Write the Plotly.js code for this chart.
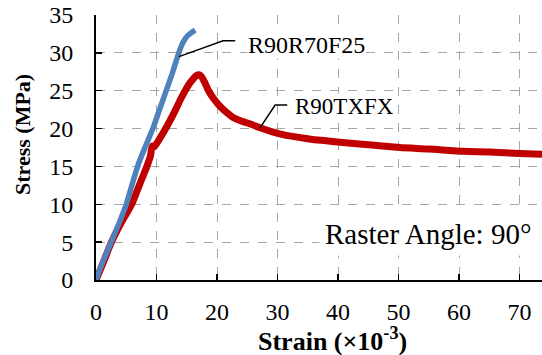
<!DOCTYPE html>
<html>
<head>
<meta charset="utf-8">
<script src="https://cdn.plot.ly/plotly-3.0.1.min.js"></script>
<style>html,body{margin:0;padding:0;background:#fff}#chart{width:542px;height:355px}</style>
</head>
<body>
<div id="chart"></div>
<script>
// R90TXFX (red)
const redStrain = [0, 1.2, 2.5, 4.2, 5.9, 7.2, 8.4, 9.0, 9.3, 9.6, 10.4, 11.3, 12.2, 13.1, 14.0, 14.8, 15.5, 16.1, 16.6, 17.0, 17.4, 17.9, 18.6, 19.3, 20.2, 21.2, 22.6, 24.0, 25.5, 27.1, 29.0, 30.9, 33.0, 35.5, 38.0, 40.3, 43.0, 46.0, 50.2, 55.0, 60.7, 65.0, 70.0, 74.0];
const redStress = [0, 2.3, 4.9, 7.6, 10.0, 12.6, 15.0, 16.4, 17.7, 17.6, 18.5, 19.7, 21.0, 22.4, 23.9, 25.1, 26.0, 26.6, 27.0, 27.1, 26.9, 26.2, 25.0, 24.1, 23.2, 22.4, 21.5, 21.0, 20.6, 20.1, 19.6, 19.2, 18.9, 18.6, 18.4, 18.2, 18.0, 17.8, 17.5, 17.3, 17.0, 16.9, 16.7, 16.6];
// R90R70F25 (blue)
const blueStrain = [0, 1.2, 2.5, 3.8, 5.0, 6.0, 7.0, 8.2, 9.4, 10.5, 11.6, 12.6, 13.4, 14.0, 14.6, 15.2, 15.8, 16.4];
const blueStress = [0, 2.5, 5.0, 7.5, 10.0, 12.7, 15.3, 17.7, 20.0, 22.5, 25.0, 27.3, 29.3, 30.7, 31.7, 32.3, 32.7, 33.0];
const xTicks = [0, 10, 20, 30, 40, 50, 60, 70];
const yTicks = [0, 5, 10, 15, 20, 25, 30, 35];
const seriesNames = ['R90TXFX', 'R90R70F25'];

const serif = 'Liberation Serif, Times New Roman, serif';
const traces = [
  {x: redStrain, y: redStress, name: seriesNames[0], mode: 'lines', line: {color: '#C00000', width: 7, shape: 'spline', smoothing: 0.6}},
  {x: blueStrain, y: blueStress, name: seriesNames[1], mode: 'lines', line: {color: '#4F81BD', width: 5.5, shape: 'spline', smoothing: 0.6}}
];
const axisCommon = {
  showline: true, linecolor: '#000', linewidth: 2,
  ticks: 'inside', ticklen: 6, tickwidth: 1.5, tickcolor: '#000',
  showgrid: true, gridcolor: '#A6A6A6', gridwidth: 1, griddash: 'dash',
  zeroline: false, tickfont: {family: serif, size: 24, color: '#000'}
};
const layout = {
  width: 542, height: 355,
  margin: {l: 96, r: 0, t: 15, b: 75},
  paper_bgcolor: '#fff', plot_bgcolor: '#fff',
  showlegend: false,
  xaxis: Object.assign({}, axisCommon, {
    range: [0, 73.7], tickvals: xTicks, ticklabelstandoff: 9
  }),
  yaxis: Object.assign({}, axisCommon, {
    range: [0, 35], tickvals: yTicks, ticklabelstandoff: 16
  }),
  shapes: [
    {type: 'path', xref: 'x', yref: 'y', path: 'M 13.7 29.5 L 21.0 31.6 L 23.0 31.6', line: {color: '#000', width: 1.5}},
    {type: 'path', xref: 'x', yref: 'y', path: 'M 27.1 20.1 L 29.6 23.1 L 31.6 23.1', line: {color: '#000', width: 1.5}}
  ],
  annotations: [
    {x: 25.0, y: 31.1, xref: 'x', yref: 'y', text: seriesNames[1], showarrow: false, xanchor: 'left', bgcolor: '#fff', borderpad: 0, font: {family: serif, size: 24, color: '#000'}},
    {x: 32.7, y: 22.9, xref: 'x', yref: 'y', text: seriesNames[0], showarrow: false, xanchor: 'left', bgcolor: '#fff', borderpad: 0, font: {family: serif, size: 23, color: '#000'}},
    {x: 0.99, y: 0.09, xref: 'paper', yref: 'paper', text: 'Raster Angle: 90°', showarrow: false, xanchor: 'right', bgcolor: '#fff', borderpad: 5, font: {family: serif, size: 29, color: '#000'}},
    {x: 0.531, y: -0.226, xref: 'paper', yref: 'paper', text: '<b>Strain (×10<sup>-3</sup>)</b>', showarrow: false, xanchor: 'center', yanchor: 'middle', font: {family: serif, size: 26, color: '#000'}},
    {x: -0.1637, y: 0.551, xref: 'paper', yref: 'paper', text: '<b>Stress (MPa)</b>', textangle: -90, showarrow: false, xanchor: 'center', yanchor: 'middle', font: {family: serif, size: 22, color: '#000'}}
  ]
};
Plotly.newPlot('chart', traces, layout, {staticPlot: true, displayModeBar: false});
</script>
</body>
</html>
